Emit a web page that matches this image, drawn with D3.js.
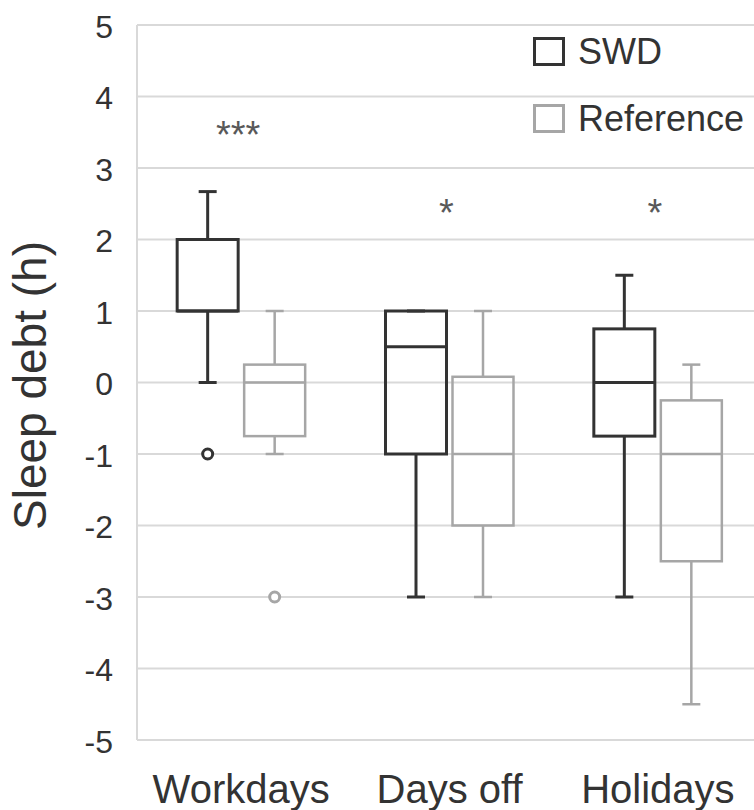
<!DOCTYPE html>
<html>
<head>
<meta charset="utf-8">
<script src="https://cdn.jsdelivr.net/npm/d3@7"></script>
<style>
  body { margin: 0; background: #fff; }
  svg { display: block; font-family: "Liberation Sans", Arial, sans-serif; }
</style>
</head>
<body>
<div id="chart"></div>
<script>
// data
var categories = ["Workdays", "Days off", "Holidays"];
var series = ["SWD", "Reference"];
var yTicks = [5, 4, 3, 2, 1, 0, -1, -2, -3, -4, -5];

// per series, one value per category
var whiskerHigh = { "SWD": [2.67, 1, 1.5],    "Reference": [1, 1, 0.25] };
var q3          = { "SWD": [2, 1, 0.75],      "Reference": [0.25, 0.08, -0.25] };
var median      = { "SWD": [1, 0.5, 0],       "Reference": [0, -1, -1] };
var q1          = { "SWD": [1, -1, -0.75],    "Reference": [-0.75, -2, -2.5] };
var whiskerLow  = { "SWD": [0, -3, -3],       "Reference": [-1, -3, -4.5] };
var outliers    = { "SWD": [[-1], [], []],    "Reference": [[-3], [], []] };

var sigLabels = ["***", "*", "*"];
var sigAt = [3.55, 2.45, 2.45];

//styles
var width = 754, height = 810;
var plotLeft = 137, plotRight = 762, plotTop = 25, plotBottom = 740;
var gridColor = "#d9d9d9";
var textColor = "#333333";
var seriesColor = { "SWD": "#333333", "Reference": "#a6a6a6" };
var seriesStroke = { "SWD": 3, "Reference": 2.5 };
var boxWidth = 61;
var capWidth = 18;

var svg = d3.select("#chart").append("svg")
  .attr("width", width)
  .attr("height", height);

var x = d3.scaleBand().domain(categories).range([plotLeft, plotRight]);
var xs = d3.scaleBand().domain(series).range([-67, 67]);
var y = d3.scaleLinear().domain([-5, 5]).range([plotBottom, plotTop]);

// grid
svg.append("g").selectAll("line")
  .data(yTicks)
  .join("line")
  .attr("x1", plotLeft)
  .attr("x2", plotRight)
  .attr("y1", d => y(d))
  .attr("y2", d => y(d))
  .attr("stroke", gridColor)
  .attr("stroke-width", 2);

svg.append("line")
  .attr("x1", plotLeft).attr("x2", plotLeft)
  .attr("y1", y(5)).attr("y2", y(-5))
  .attr("stroke", gridColor)
  .attr("stroke-width", 2);

// y axis
var yAxis = svg.append("g")
  .attr("transform", "translate(" + (plotLeft - 24) + ",0)")
  .call(d3.axisLeft(y).tickValues(yTicks).tickSize(0).tickPadding(0).tickFormat(d => String(d)));
yAxis.select(".domain").remove();
yAxis.selectAll("text")
  .attr("fill", textColor)
  .attr("dy", "0.38em")
  .style("font-size", "32px")
  .style("font-family", "'Liberation Sans', Arial, sans-serif");

svg.append("text")
  .attr("transform", "translate(46," + ((plotTop + plotBottom) / 2 + 3) + ") rotate(-90)")
  .attr("text-anchor", "middle")
  .attr("fill", textColor)
  .style("font-size", "46px")
  .text("Sleep debt (h)");

// x labels
var xAxis = svg.append("g")
  .attr("transform", "translate(0," + plotBottom + ")")
  .call(d3.axisBottom(x).tickSize(0).tickPadding(0));
xAxis.select(".domain").remove();
xAxis.selectAll("text")
  .attr("dy", 0)
  .attr("y", 63)
  .attr("fill", textColor)
  .style("font-size", "40px")
  .style("font-family", "'Liberation Sans', Arial, sans-serif");

// boxes
series.forEach(function (s) {
  var g = svg.append("g").attr("class", "series-" + s);
  var color = seriesColor[s], sw = seriesStroke[s];
  categories.forEach(function (c, i) {
    var cx = x(c) + x.bandwidth() / 2 + xs(s) + xs.bandwidth() / 2;
    // whiskers
    g.append("line")
      .attr("x1", cx).attr("x2", cx)
      .attr("y1", y(whiskerHigh[s][i])).attr("y2", y(q3[s][i]))
      .attr("stroke", color).attr("stroke-width", sw);
    g.append("line")
      .attr("x1", cx).attr("x2", cx)
      .attr("y1", y(q1[s][i])).attr("y2", y(whiskerLow[s][i]))
      .attr("stroke", color).attr("stroke-width", sw);
    [whiskerHigh[s][i], whiskerLow[s][i]].forEach(function (v) {
      g.append("line")
        .attr("x1", cx - capWidth / 2).attr("x2", cx + capWidth / 2)
        .attr("y1", y(v)).attr("y2", y(v))
        .attr("stroke", color).attr("stroke-width", sw);
    });
    // box
    g.append("rect")
      .attr("x", cx - boxWidth / 2)
      .attr("width", boxWidth)
      .attr("y", y(q3[s][i]))
      .attr("height", y(q1[s][i]) - y(q3[s][i]))
      .attr("fill", "none")
      .attr("stroke", color).attr("stroke-width", sw);
    g.append("line")
      .attr("x1", cx - boxWidth / 2).attr("x2", cx + boxWidth / 2)
      .attr("y1", y(median[s][i])).attr("y2", y(median[s][i]))
      .attr("stroke", color).attr("stroke-width", sw);
    // outliers
    g.selectAll(null)
      .data(outliers[s][i])
      .join("circle")
      .attr("cx", cx)
      .attr("cy", d => y(d))
      .attr("r", 5)
      .attr("fill", "#fff")
      .attr("stroke", color).attr("stroke-width", 3);
  });
});

// significance
svg.append("g").selectAll("text")
  .data(categories)
  .join("text")
  .attr("x", d => x(d) + x.bandwidth() / 2 - 3)
  .attr("y", (d, i) => y(sigAt[i]) + 19)
  .attr("text-anchor", "middle")
  .attr("fill", "#595959")
  .style("font-size", "38px")
  .text((d, i) => sigLabels[i]);

// legend
var legend = svg.append("g").attr("transform", "translate(533,37)");
var item = legend.selectAll("g")
  .data(series)
  .join("g")
  .attr("transform", (d, i) => "translate(0," + (i * 67) + ")");
item.append("rect")
  .attr("x", 1.5).attr("y", 1.5)
  .attr("width", 29).attr("height", 26)
  .attr("fill", "#fff")
  .attr("stroke", d => seriesColor[d])
  .attr("stroke-width", 3);
item.append("text")
  .attr("x", 45)
  .attr("y", 27)
  .attr("fill", textColor)
  .style("font-size", "36px")
  .text(d => d);
</script>
</body>
</html>
